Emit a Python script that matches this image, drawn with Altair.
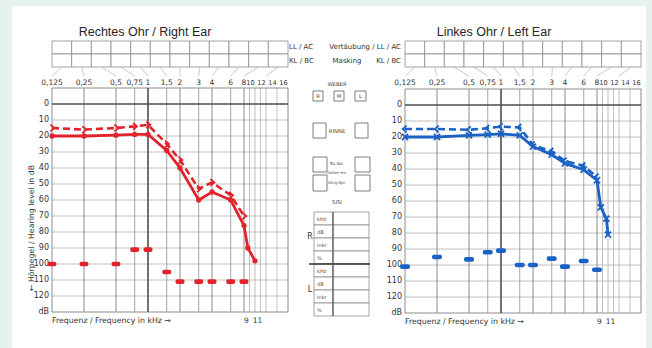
import math
import altair as alt
import pandas as pd

# ---------------- colours & type ----------------
RED = "#e3232c"
BLUE = "#1b62c6"
INK = "#333333"
LINE_DARK = "#4d4d4d"
LINE_MID = "#8c8c8c"
LINE_LIGHT = "#b0b0b0"
TITLE_FONT = "Liberation Sans"
FONT = "DejaVu Sans"

# ---------------- audiogram form values ----------------
GRID_EDGE = [0.125, 16]
GRID_MAJOR = [1]
GRID_OCTAVE = [0.25, 0.5, 2, 4, 8]
GRID_HALF = [0.75, 1.5, 3, 6]
GRID_HIGH = [9, 10, 11, 12, 14]
TOP_FREQS = [0.125, 0.25, 0.5, 0.75, 1, 1.5, 2, 3, 4, 6, 8]
TOP_LABELS = ["0,125", "0,25", "0,5", "0,75", "1", "1,5", "2", "3", "4", "6", "8"]
TOP_HIGH_FREQS = [10, 12, 14, 16]
TOP_HIGH_LABELS = ["10", "12", "14", "16"]
LINK_FREQS = [0.125, 0.25, 0.5, 0.75, 1, 1.5, 2, 3, 4, 6, 8, 12]
DB_EDGE = [-10, 130]
DB_ZERO = [0]
DB_MINOR = [10, 20, 30, 40, 50, 60, 70, 80, 90, 100, 110, 120]
DB_TICKS = [0, 10, 20, 30, 40, 50, 60, 70, 80, 90, 100, 110, 120, 130]
DB_TICK_LABELS = ["0", "10", "20", "30", "40", "50", "60", "70", "80", "90", "100",
                  "110", "120", "dB"]
BOTTOM_FREQS = [9, 11]
BOTTOM_LABELS = ["9", "11"]

# ---------------- right ear (red) ----------------
R_AC_FREQ = [0.125, 0.25, 0.5, 0.75, 1, 1.5, 2, 3, 4, 6, 8, 8.7, 10]
R_AC_DB = [20, 20, 19.5, 19, 19, 29, 40, 60, 55, 60, 76, 90, 98]
R_BC_FREQ = [0.125, 0.25, 0.5, 0.75, 1, 1.5, 2, 3, 4, 6, 8]
R_BC_DB = [15, 16, 15, 14, 13, 25, 35, 53, 49, 57, 70]
R_MASK_FREQ = [0.125, 0.25, 0.5, 0.75, 1, 1.5, 2, 3, 4, 6, 8]
R_MASK_DB = [100, 100, 100, 91, 91, 105, 111, 111, 111, 111, 111]

# ---------------- left ear (blue) ----------------
L_AC_FREQ = [0.125, 0.25, 0.5, 0.75, 1, 1.5, 2, 3, 4, 6, 8, 8.7, 9.7, 10]
L_AC_DB = [20, 20, 19, 18.5, 18, 19, 26, 31, 36.5, 40.5, 47, 64, 71, 81]
L_BC_FREQ = [0.125, 0.25, 0.5, 0.75, 1, 1.5, 2, 3, 4, 6, 8]
L_BC_DB = [15, 15, 15.5, 14.5, 13.5, 14, 25, 29, 35, 38, 45]
L_MASK_FREQ = [0.125, 0.25, 0.5, 0.75, 1, 1.5, 2, 3, 4, 6, 8]
L_MASK_DB = [101, 95, 96.5, 92, 91, 100, 100, 96, 101, 97.5, 103]

# ---------------- middle form fields ----------------
WEBER_KEYS = ["R", "M", "L"]
SISI_ROWS = ["kHz", "dB", "Inkr", "%", "kHz", "dB", "Inkr", "%"]

# ---------------- layout ----------------
W, H = 634, 342
PX_OCT = 32                    # pixels per octave up to 8 kHz
HIGH_OCT = 1.375               # 8-16 kHz band, linear in kHz, width in octave units
U_MAX = math.log2(8 / 0.125) + HIGH_OCT
HEADER_Y = [35, 74]            # header rows 0..3
MID_X = ([0, 80], [288, 368])
MID_Y = ([0, 250], [69, 319])


def u_expr(field):
    # frequency axis of the form: octave spacing to 8 kHz, then linear to 16 kHz
    return (f"datum.{field} <= 8 ? log(datum.{field} / 0.125) / LN2"
            f" : 6 + (datum.{field} - 8) * {HIGH_OCT / 8}")


def with_u(chart, *fields):
    return chart.transform_calculate(**{f"{f}_u": u_expr(f) for f in fields})


def fx(field, x0):
    return alt.X(f"{field}:Q", axis=None,
                 scale=alt.Scale(domain=[0, U_MAX], range=[x0, x0 + PX_OCT * U_MAX],
                                 zero=False, nice=False))


def fy(field, yr):
    return alt.Y(f"{field}:Q", axis=None,
                 scale=alt.Scale(domain=DB_EDGE, range=yr, zero=False, nice=False))


def hy(field):
    return alt.Y(f"{field}:Q", axis=None,
                 scale=alt.Scale(domain=[0, 3], range=HEADER_Y, zero=False, nice=False))


def mx(field):
    return alt.X(f"{field}:Q", axis=None,
                 scale=alt.Scale(domain=MID_X[0], range=MID_X[1], zero=False, nice=False))


def my(field):
    return alt.Y(f"{field}:Q", axis=None,
                 scale=alt.Scale(domain=MID_Y[0], range=MID_Y[1], zero=False, nice=False))


def text_chart(df, **kw):
    base = dict(font=FONT, color=INK, fontSize=8)
    base.update(kw)
    return alt.Chart(df).mark_text(**base)


def ear_layers(x0, yr, color, ac, bc, mask, ac_shape, bc_shape, tick_len,
               title, title_x, y_title):
    layers = []

    # header table with 12 columns x 2 rows
    edges = [U_MAX * k / 12 for k in range(13)]
    cells = pd.DataFrame([{"a_u": edges[k], "b_u": edges[k + 1], "r0": r, "r1": r + 1}
                          for k in range(12) for r in range(2)])
    layers.append(alt.Chart(cells).mark_rect(fill="white", stroke=LINE_MID, strokeWidth=0.8)
                  .encode(x=fx("a_u", x0), x2="b_u", y=hy("r0"), y2="r1"))
    links = pd.DataFrame({"c_u": [(edges[k] + edges[k + 1]) / 2 for k in range(12)],
                          "f": LINK_FREQS, "y0": 2.0, "y1": 2.7})
    layers.append(with_u(alt.Chart(links), "f").mark_rule(color=LINE_LIGHT, strokeWidth=0.7)
                  .encode(x=fx("c_u", x0), x2="f_u", y=hy("y0"), y2="y1"))
    top = pd.DataFrame({"f": TOP_FREQS, "t": TOP_LABELS, "y": 3.22})
    layers.append(with_u(text_chart(top, fontSize=7.5, baseline="middle"), "f")
                  .encode(x=fx("f_u", x0), y=hy("y"), text="t:N"))
    top_hi = pd.DataFrame({"f": TOP_HIGH_FREQS, "t": TOP_HIGH_LABELS, "y": 3.22})
    layers.append(with_u(text_chart(top_hi, fontSize=6.6, baseline="middle", dx=-4.5), "f")
                  .encode(x=fx("f_u", x0), y=hy("y"), text="t:N"))

    # grid
    def vgrid(freqs, col, w):
        df = pd.DataFrame({"f": freqs, "lo": DB_EDGE[0], "hi": DB_EDGE[1]})
        return (with_u(alt.Chart(df), "f").mark_rule(color=col, strokeWidth=w)
                .encode(x=fx("f_u", x0), y=fy("lo", yr), y2="hi"))

    def hgrid(levels, col, w):
        df = pd.DataFrame({"db": levels, "lo": GRID_EDGE[0], "hi": GRID_EDGE[1]})
        return (with_u(alt.Chart(df), "lo", "hi").mark_rule(color=col, strokeWidth=w)
                .encode(y=fy("db", yr), x=fx("lo_u", x0), x2="hi_u"))

    layers += [
        hgrid(DB_MINOR, LINE_LIGHT, 0.8),
        vgrid(GRID_HIGH, LINE_LIGHT, 0.8),
        vgrid(GRID_HALF, "#9c9c9c", 0.9),
        vgrid(GRID_OCTAVE, LINE_MID, 1.0),
        hgrid(DB_EDGE, LINE_MID, 1.0),
        vgrid(GRID_EDGE, LINE_MID, 1.0),
        hgrid(DB_ZERO, LINE_DARK, 1.6),
        vgrid(GRID_MAJOR, LINE_DARK, 1.6),
    ]

    # tick labels
    yt = pd.DataFrame({"db": DB_TICKS, "t": DB_TICK_LABELS, "f": GRID_EDGE[0]})
    layers.append(with_u(text_chart(yt, fontSize=8, align="right", baseline="middle", dx=-3), "f")
                  .encode(x=fx("f_u", x0), y=fy("db", yr), text="t:N"))
    bt = pd.DataFrame({"f": BOTTOM_FREQS, "t": BOTTOM_LABELS, "db": DB_EDGE[1]})
    layers.append(with_u(text_chart(bt, fontSize=7.5, baseline="middle", dy=9, dx=-3), "f")
                  .encode(x=fx("f_u", x0), y=fy("db", yr), text="t:N"))
    fq = pd.DataFrame({"f": [GRID_EDGE[0]], "db": [DB_EDGE[1]],
                       "t": ["Frequenz / Frequency in kHz  \u2192"]})
    layers.append(with_u(text_chart(fq, fontSize=7.8, align="left", baseline="middle", dy=9), "f")
                  .encode(x=fx("f_u", x0), y=fy("db", yr), text="t:N"))

    tt = pd.DataFrame({"t": [title]})
    layers.append(text_chart(tt, font=TITLE_FONT, fontSize=12.5, color="#262626",
                             baseline="middle")
                  .encode(x=alt.value(title_x), y=alt.value(26), text="t:N"))
    if y_title:
        yt2 = pd.DataFrame({"t": ["\u2190 H\u00f6rpegel / Hearing level in dB"]})
        layers.append(text_chart(yt2, fontSize=7.8, angle=270, baseline="middle")
                      .encode(x=alt.value(x0 - 20), y=alt.value(222), text="t:N"))

    # measured thresholds
    acdf = pd.DataFrame({"f": ac[0], "db": ac[1]})
    bcdf = pd.DataFrame({"f": bc[0], "db": bc[1]})
    mkdf = pd.DataFrame({"f": mask[0], "db": mask[1]})
    layers.append(with_u(alt.Chart(mkdf), "f")
                  .mark_tick(orient="horizontal", size=tick_len, thickness=4.6,
                             cornerRadius=2, color=color, opacity=1)
                  .encode(x=fx("f_u", x0), y=fy("db", yr)))
    layers.append(with_u(alt.Chart(bcdf), "f")
                  .mark_line(color=color, strokeWidth=2.6, strokeDash=[7, 4])
                  .encode(x=fx("f_u", x0), y=fy("db", yr)))
    layers.append(with_u(alt.Chart(bcdf), "f")
                  .mark_point(shape=bc_shape, size=45, filled=False,
                              strokeWidth=1.8, color=color, opacity=1)
                  .encode(x=fx("f_u", x0), y=fy("db", yr)))
    layers.append(with_u(alt.Chart(acdf), "f").mark_line(color=color, strokeWidth=2.8)
                  .encode(x=fx("f_u", x0), y=fy("db", yr)))
    if ac_shape == "circle":
        layers.append(with_u(alt.Chart(acdf), "f").mark_circle(size=28, color=color, opacity=1)
                      .encode(x=fx("f_u", x0), y=fy("db", yr)))
    else:
        layers.append(with_u(alt.Chart(acdf), "f")
                      .mark_point(shape=ac_shape, size=38, filled=False,
                                  strokeWidth=1.8, color=color, opacity=1)
                      .encode(x=fx("f_u", x0), y=fy("db", yr)))
    return layers


def middle_layers():
    layers = []
    boxes = pd.DataFrame({
        "x0": [13, 34, 55, 13, 55, 13, 55, 13, 55],
        "x1": [23, 44, 66, 26, 68, 27, 70, 27, 70],
        "y0": [16, 16, 16, 48, 48, 82, 82, 100, 100],
        "y1": [26, 26, 26, 63, 63, 97, 97, 116, 116],
    })
    layers.append(alt.Chart(boxes).mark_rect(fill="white", stroke="#6e6e6e", strokeWidth=0.9)
                  .encode(x=mx("x0"), x2="x1", y=my("y0"), y2="y1"))

    sisi = pd.DataFrame([{"x0": a, "x1": b, "y0": 137 + 13 * r, "y1": 150 + 13 * r}
                         for r in range(len(SISI_ROWS)) for a, b in [(14, 33), (33, 69)]])
    layers.append(alt.Chart(sisi).mark_rect(fill="white", stroke="#8a8a8a", strokeWidth=0.8)
                  .encode(x=mx("x0"), x2="x1", y=my("y0"), y2="y1"))
    split = pd.DataFrame({"x0": [9], "x1": [70], "y": [189]})
    layers.append(alt.Chart(split).mark_rule(color="#333333", strokeWidth=1.4)
                  .encode(x=mx("x0"), x2="x1", y=my("y")))
    divider = pd.DataFrame({"x": [33], "y0": [137], "y1": [241]})
    layers.append(alt.Chart(divider).mark_rule(color="#555555", strokeWidth=1.1)
                  .encode(x=mx("x"), y=my("y0"), y2="y1"))

    rows = pd.DataFrame({"t": SISI_ROWS, "x": 17,
                         "y": [143.5 + 13 * r for r in range(len(SISI_ROWS))]})
    layers.append(text_chart(rows, fontSize=5, align="left", baseline="middle", color="#555555")
                  .encode(x=mx("x"), y=my("y"), text="t:N"))

    labels = pd.DataFrame({
        "t": ["WEBER", "RINNE", "R\u00fc.Spr.", "Zahlen ein.", "Umg.Spr.", "SISI"] + WEBER_KEYS,
        "x": [37, 37, 37, 37, 37, 37, 18, 39, 60.5],
        "y": [9, 56, 89, 98, 108, 127, 21, 21, 21],
        "s": [5.3, 5.3, 4, 3.6, 4, 5.3, 5.3, 5.3, 5.3],
    })
    layers.append(text_chart(labels, baseline="middle", color="#444444")
                  .encode(x=mx("x"), y=my("y"), text="t:N",
                          size=alt.Size("s:Q", scale=None, legend=None)))

    side = pd.DataFrame({"t": ["R", "L"], "x": [10, 10], "y": [162, 215]})
    layers.append(text_chart(side, fontSize=8, baseline="middle")
                  .encode(x=mx("x"), y=my("y"), text="t:N"))

    heads = pd.DataFrame({
        "t": ["LL / AC", "KL / BC", "Vert\u00e4ubung / LL / AC", "KL / BC", "Masking"],
        "x": [-11, -11, 101, 101, 47],
        "y": [-28, -14, -28, -14, -14],
        "a": ["left", "left", "right", "right", "center"],
    })
    for a in ["left", "right", "center"]:
        sub = heads[heads["a"] == a]
        layers.append(text_chart(sub, fontSize=7, align=a, baseline="middle")
                      .encode(x=mx("x"), y=my("y"), text="t:N"))
    return layers


layers = []
layers += ear_layers(40, [82, 306], RED, (R_AC_FREQ, R_AC_DB), (R_BC_FREQ, R_BC_DB),
                     (R_MASK_FREQ, R_MASK_DB), "circle", "M-0.5,-1L0.7,0L-0.5,1", 9,
                     "Rechtes Ohr / Right Ear", 133, True)
layers += ear_layers(393, [83, 307], BLUE, (L_AC_FREQ, L_AC_DB), (L_BC_FREQ, L_BC_DB),
                     (L_MASK_FREQ, L_MASK_DB), "M-1,-1L1,1M-1,1L1,-1", "M0.5,-1L-0.7,0L0.5,1",
                     10, "Linkes Ohr / Left Ear", 482, False)
layers += middle_layers()

chart = (
    alt.layer(*layers)
    .resolve_scale(x="independent", y="independent", size="independent")
    .properties(width=W, height=H, background="#e6f2ed",
                padding={"left": 12, "top": 6, "right": 6, "bottom": 0},
                autosize=alt.AutoSizeParams(type="none"))
    .configure_view(fill="white", stroke=None)
)

chart.save("out.html", embed_options={"renderer": "svg", "actions": False})
